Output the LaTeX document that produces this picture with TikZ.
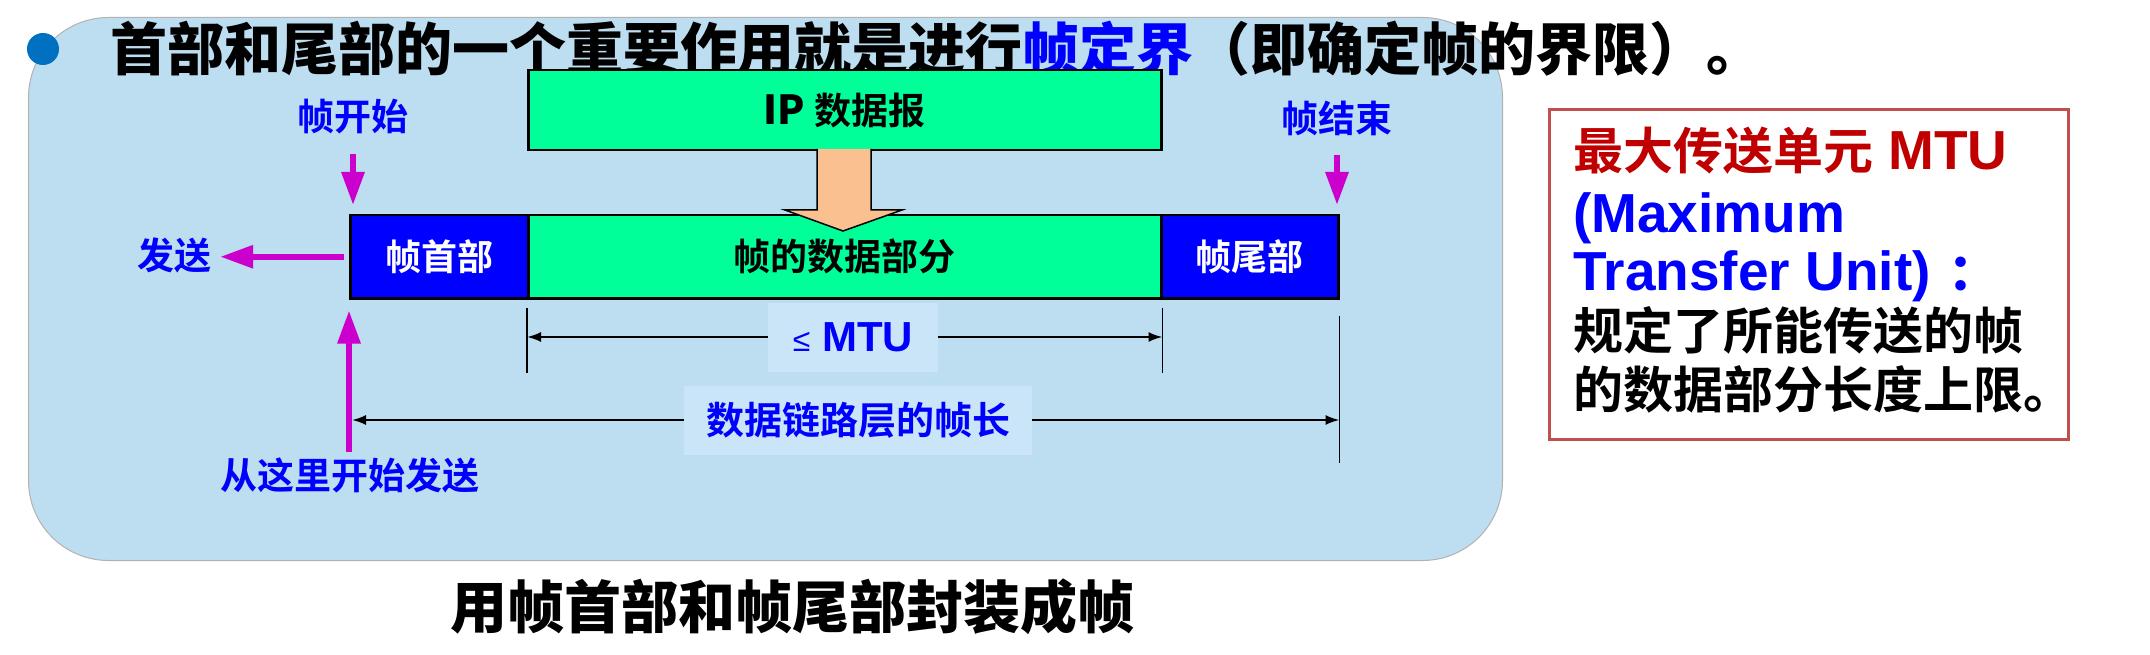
\documentclass[tikz,border=0pt]{standalone}
\usepackage{fontspec}
\setmainfont{Liberation Sans}
\newfontfamily\cjk{Noto Sans CJK SC Bold}
\newfontfamily\cjkh{Noto Sans CJK SC Black}
\usetikzlibrary{arrows.meta,calc}
\definecolor{bgblue}{HTML}{BDDDF0}
\definecolor{lblbgc}{HTML}{C9E5F7}
\definecolor{sgreen}{HTML}{00FF99}
\definecolor{fblue}{HTML}{0000FF}
\definecolor{mag}{HTML}{CC00CC}
\definecolor{peach}{HTML}{FAC090}
\definecolor{dotblue}{HTML}{0070C0}
\definecolor{tred}{HTML}{C00000}
\definecolor{rborder}{HTML}{C0504D}
\newcommand\fs[1]{\fontsize{#1}{#1}\selectfont}
\tikzset{
  bgpanel/.style={fill=bgblue, draw=black!30, line width=1pt, rounded corners=80pt},
  greenbox/.style={fill=sgreen, draw=black, line width=2.5pt, font=\cjk\fs{37}, text=black, inner sep=0pt},
  bluebox/.style={fill=fblue, draw=black, line width=2.5pt, font=\cjk\fs{36}, text=white, inner sep=0pt},
  lbl/.style={text=fblue, font=\cjk\fs{37}, inner sep=0pt},
  lblbg/.style={fill=lblbgc, inner sep=0pt},
  marrow/.style={draw=mag, line width=6pt, -{Triangle[length=33pt,width=22pt]}},
  dimarrow/.style={draw=black, line width=2pt, -{Latex[length=14pt,width=10pt]}},
  tick/.style={draw=black, line width=1.8pt},
  textline/.style={anchor=base west, inner sep=0pt},
}
\begin{document}
\begin{tikzpicture}[x=1pt,y=-1pt]
\useasboundingbox (0,0) rectangle (2150,655);
% background panel
\node[bgpanel, minimum width=1474pt, minimum height=543pt, anchor=north west] (bg) at (28,17) {};
% bullet and title
\node[circle, fill=dotblue, minimum size=32pt, inner sep=0pt] (dot) at (43,49) {};
\node[textline, font=\cjkh\fs{57}] (title) at (110,71) {首部和尾部的一个重要作用就是进行\textcolor{fblue}{帧定界}（即确定帧的界限）。};
% IP datagram
\node[greenbox, minimum width=633pt, minimum height=80pt, anchor=north west] (ip) at (527,69) {{\bfseries\fs{40}IP }数据报};
% frame
\node[bluebox, minimum width=178pt, minimum height=83pt, anchor=north west] (hd) at (349,214) {帧首部};
\node[greenbox, minimum width=633pt, minimum height=83pt, anchor=north west] (data) at (527,214) {帧的数据部分};
\node[bluebox, minimum width=177pt, minimum height=83pt, anchor=north west] (tl) at (1160,214) {帧尾部};
% orange arrow
\draw[fill=peach, draw=black, line width=1.5pt] (817,149) -- (817,210) -- (785,210) -- (843,231) -- (902,210) -- (871,210) -- (871,149);
% labels
\node[lbl] (lstart) at (353,117) {帧开始};
\node[lbl] (lend) at (1337,118) {帧结束};
\node[lbl] (send) at (174,255) {发送};
\node[lbl] (from) at (350,475) {从这里开始发送};
% magenta arrows
\draw[marrow, shorten <=19pt, shorten >=9pt] (lstart.south) -- (lstart.south |- hd.north);
\draw[marrow, shorten <=19pt, shorten >=9pt] (lend.south) -- (lend.south |- tl.north east);
\draw[marrow, shorten <=5pt, shorten >=9pt] (hd.west) -- (hd.west -| send.east);
% dimension: <= MTU
\draw[tick] ($(data.south west)+(0,8)$) -- ++(0,65);
\draw[tick] ($(data.south east)+(0,8)$) -- ++(0,65);
\node[lblbg, minimum width=170pt, minimum height=69pt, text=fblue] (mtu) at (853,337) {{\fs{32}≤}{\bfseries\fs{42} MTU}};
\draw[dimarrow] (mtu.west) -- (mtu.west -| data.south west);
\draw[dimarrow] (mtu.east) -- (mtu.east -| data.south east);
% dimension: frame length
\draw[tick] ($(tl.south east)+(0,16)$) -- ++(0,147);
\node[lblbg, minimum width=348pt, minimum height=69pt, text=fblue, font=\cjk\fs{38}] (dll) at (858,420) {数据链路层的帧长};
\draw[dimarrow, shorten >=3pt] (dll.west) -- (dll.west -| hd.south west);
\draw[dimarrow] (dll.east) -- (dll.east -| tl.south east);
\draw[marrow, shorten <=5pt, shorten >=11pt] (from.north -| hd.south west) -- (hd.south west);
% caption
\node[anchor=base, inner sep=0pt, font=\cjkh\fs{57}] (cap) at (792,628) {用帧首部和帧尾部封装成帧};
% MTU box
\node[draw=rborder, line width=3pt, fill=white, minimum width=519pt, minimum height=330pt, anchor=north west] (mtubox) at (1548,108) {};
\node[textline, text=tred] (m1) at (1573,170) {{\cjk\fs{50}最大传送单元}{\bfseries\fs{55} MTU}};
\node[textline, text=fblue, font=\bfseries\fs{55}] (m2) at (1573,233) {(Maximum};
\node[textline, text=fblue, font=\bfseries\fs{55}] (m3) at (1573,290) {Transfer Unit)\hspace{18pt}{\cjk\fs{50}：}};
\node[textline, font=\cjk\fs{50}] (m4) at (1573,349) {规定了所能传送的帧};
\node[textline, font=\cjk\fs{50}] (m5) at (1573,408) {的数据部分长度上限。};
\end{tikzpicture}
\end{document}
